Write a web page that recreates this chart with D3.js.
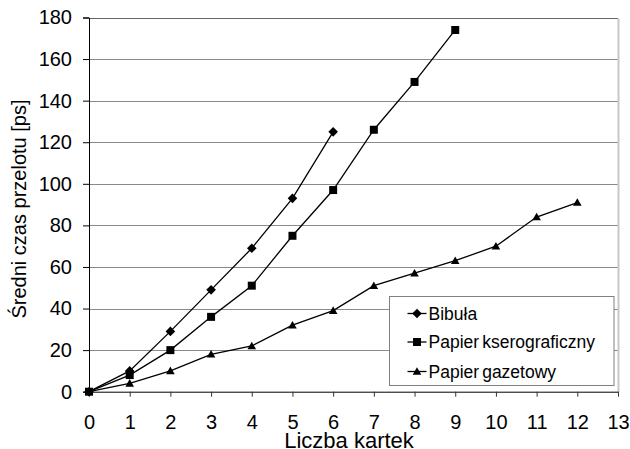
<!DOCTYPE html>
<html>
<head>
<meta charset="utf-8">
<script src="https://cdn.jsdelivr.net/npm/d3@7"></script>
<style>
  html, body { margin: 0; padding: 0; background: #fff; }
  svg { display: block; font-family: "Liberation Sans", Arial, sans-serif; }
</style>
</head>
<body>
<svg id="chart" width="630" height="449"></svg>
<script>
// Liczba kartek (x) i średni czas przelotu w ps (y) dla trzech rodzajów papieru
const bibulaX = [0, 1, 2, 3, 4, 5, 6];
const bibulaY = [0, 10, 29, 49, 69, 93, 125];
const kseroX = [0, 1, 2, 3, 4, 5, 6, 7, 8, 9];
const kseroY = [0, 8, 20, 36, 51, 75, 97, 126, 149, 174];
const gazetaX = [0, 1, 2, 3, 4, 5, 6, 7, 8, 9, 10, 11, 12];
const gazetaY = [0, 4, 10, 18, 22, 32, 39, 51, 57, 63, 70, 84, 91];

const seriesNames = ["Bibuła", "Papier kserograficzny", "Papier gazetowy"];
const xTicks = d3.range(0, 14);
const yTicks = d3.range(0, 181, 20);

const svg = d3.select("#chart");
const x = d3.scaleLinear().domain([0, 13]).range([89, 618]);
const y = d3.scaleLinear().domain([0, 180]).range([391.7, 17.5]);

// marker shapes, centred on the point
const markerPath = {
  diamond: "M0,-4.8L4.8,0L0,4.8L-4.8,0Z",
  square: "M-4,-4H4V4H-4Z",
  triangle: "M0,-4.3L4.3,3.3H-4.3Z"
};

const series = [
  { name: seriesNames[0], xs: bibulaX, ys: bibulaY, marker: "diamond" },
  { name: seriesNames[1], xs: kseroX, ys: kseroY, marker: "square" },
  { name: seriesNames[2], xs: gazetaX, ys: gazetaY, marker: "triangle" }
];

// horizontal gridlines
svg.append("g")
  .selectAll("line")
  .data(yTicks.filter(d => d > 0))
  .join("line")
  .attr("x1", x(0)).attr("x2", x(13))
  .attr("y1", d => Math.round(y(d)) + 0.5)
  .attr("y2", d => Math.round(y(d)) + 0.5)
  .attr("stroke", d => d === 180 ? "#666" : "#8a8a8a")
  .attr("stroke-width", 1);

// right border of the plot area
svg.append("line")
  .attr("x1", x(13) + 0.5).attr("x2", x(13) + 0.5)
  .attr("y1", Math.round(y(180)) + 0.5).attr("y2", y(0))
  .attr("stroke", "#c8c8c8").attr("stroke-width", 2);

// y axis
const yAxis = svg.append("g")
  .attr("transform", `translate(${x(0)},0)`)
  .call(d3.axisLeft(y).tickValues(yTicks).tickSize(6).tickPadding(11));
yAxis.select(".domain").attr("stroke", "#000");
yAxis.selectAll(".tick line").attr("stroke", "#000");
yAxis.selectAll("text")
  .attr("font-size", 20).attr("fill", "#000")
  .attr("font-family", "Liberation Sans, Arial, sans-serif");

// x axis
const xAxis = svg.append("g")
  .attr("transform", `translate(0,${y(0)})`)
  .call(d3.axisBottom(x).tickValues(xTicks).tickSize(5).tickPadding(18).tickSizeOuter(0));
xAxis.select(".domain").attr("stroke", "#000");
xAxis.selectAll(".tick line").attr("stroke", "#333");
xAxis.selectAll("text")
  .attr("font-size", 20).attr("fill", "#000")
  .attr("font-family", "Liberation Sans, Arial, sans-serif");

// axis titles
svg.append("text")
  .attr("x", 349).attr("y", 448)
  .attr("text-anchor", "middle")
  .attr("font-size", 22)
  .text("Liczba kartek");

svg.append("text")
  .attr("transform", "translate(26,209) rotate(-90)")
  .attr("text-anchor", "middle")
  .attr("font-size", 20)
  .text("Średni czas przelotu [ps]");

// lines and markers
const line = d3.line().x(d => x(d[0])).y(d => y(d[1]));
series.forEach(s => {
  const pts = s.xs.map((v, i) => [v, s.ys[i]]);
  svg.append("path")
    .datum(pts)
    .attr("d", line)
    .attr("fill", "none")
    .attr("stroke", "#000")
    .attr("stroke-width", 1.3);
  svg.append("g")
    .selectAll("path")
    .data(pts)
    .join("path")
    .attr("transform", d => `translate(${x(d[0])},${y(d[1])})`)
    .attr("d", markerPath[s.marker])
    .attr("fill", "#000");
});

// legend
const legend = svg.append("g");
legend.append("rect")
  .attr("x", 389.5).attr("y", 296.5)
  .attr("width", 224.5).attr("height", 89)
  .attr("fill", "#fff").attr("stroke", "#808080").attr("stroke-width", 1);

const rowY = [313.5, 342, 371.5];
series.forEach((s, i) => {
  const g = legend.append("g").attr("transform", `translate(0,${rowY[i]})`);
  g.append("line")
    .attr("x1", 407.5).attr("x2", 426.5)
    .attr("y1", 0).attr("y2", 0)
    .attr("stroke", "#000").attr("stroke-width", 1.3);
  g.append("path")
    .attr("transform", "translate(417,0)")
    .attr("d", markerPath[s.marker])
    .attr("fill", "#000");
  g.append("text")
    .attr("x", 428.5).attr("y", 6)
    .attr("font-size", 17.5)
    .attr("word-spacing", -1.8)
    .text(s.name);
});
</script>
</body>
</html>
